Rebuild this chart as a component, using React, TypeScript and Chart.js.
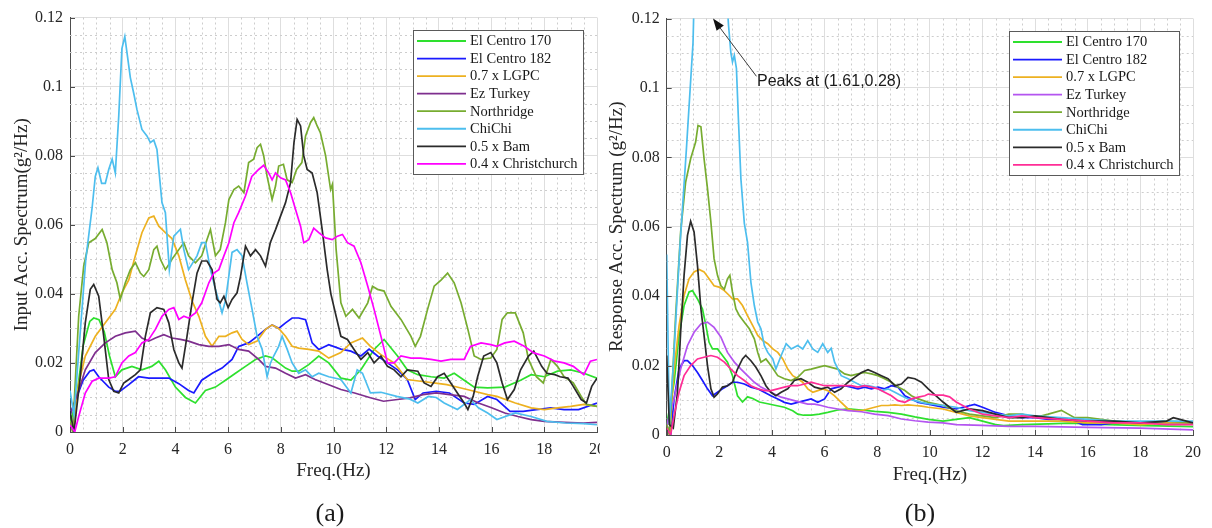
import { useEffect, useRef } from "react";
import { Chart, registerables } from "chart.js";

Chart.register(...registerables);

type Pt = [number, number]; // [frequency Hz, spectrum g^2/Hz]

const SERIES_NAMES = [
  "El Centro 170",
  "El Centro 182",
  "0.7 x LGPC",
  "Ez Turkey",
  "Northridge",
  "ChiChi",
  "0.5 x Bam",
  "0.4 x Christchurch",
];

const X_TICKS = [0, 2, 4, 6, 8, 10, 12, 14, 16, 18, 20];
const Y_TICKS = [0, 0.02, 0.04, 0.06, 0.08, 0.1, 0.12];

// ---------- (a) input acceleration spectra ----------
const elCentro170In: Pt[] = [
  [0, 0.002], [0.25, 0.01], [0.5, 0.025], [0.75, 0.032], [0.9, 0.033], [1.1, 0.0325], [1.3, 0.029], [1.5, 0.022],
  [1.72, 0.016], [1.97, 0.018], [2.35, 0.019], [2.73, 0.018], [3.1, 0.019], [3.37, 0.0205], [3.62, 0.018], [4.0, 0.013],
  [4.38, 0.01], [4.76, 0.0084], [5.14, 0.012], [5.52, 0.013], [5.9, 0.015], [6.28, 0.017], [6.66, 0.019], [7.04, 0.021],
  [7.42, 0.022], [7.67, 0.0215], [7.92, 0.02], [8.18, 0.0185], [8.43, 0.0176], [8.68, 0.0176], [9.06, 0.0195], [9.44, 0.022],
  [9.82, 0.02], [10.28, 0.0156], [10.66, 0.015], [11.04, 0.018], [11.54, 0.0239], [11.92, 0.0268], [12.43, 0.022], [12.8, 0.018],
  [13.2, 0.0166], [13.7, 0.016], [14.2, 0.0156], [14.58, 0.017], [14.96, 0.015], [15.34, 0.013], [15.85, 0.0128], [16.5, 0.013],
  [17.1, 0.015], [17.5, 0.0166], [18.0, 0.016], [18.5, 0.0176], [19.0, 0.018], [19.5, 0.017], [20, 0.0156],
];
const elCentro182In: Pt[] = [
  [0, 0.005], [0.25, 0.01], [0.5, 0.015], [0.75, 0.0176], [0.9, 0.018], [1.09, 0.016], [1.47, 0.013], [1.72, 0.0118],
  [1.9, 0.0118], [2.23, 0.0137], [2.6, 0.016], [2.99, 0.0156], [3.37, 0.0156], [3.75, 0.0156], [4.13, 0.014], [4.5, 0.012],
  [4.7, 0.0113], [5.0, 0.015], [5.4, 0.017], [5.77, 0.0185], [6.15, 0.021], [6.4, 0.0248], [6.78, 0.0258], [7.1, 0.0277],
  [7.42, 0.0297], [7.67, 0.031], [7.92, 0.03], [8.18, 0.0316], [8.43, 0.033], [8.68, 0.033], [8.94, 0.0325], [9.19, 0.0258],
  [9.44, 0.0239], [9.82, 0.0253], [10.28, 0.024], [10.66, 0.0234], [11.04, 0.022], [11.35, 0.024], [11.67, 0.022], [12.05, 0.02],
  [12.43, 0.018], [12.8, 0.0152], [13.1, 0.0094], [13.4, 0.0113], [13.9, 0.0118], [14.4, 0.0113], [14.96, 0.0084], [15.34, 0.008],
  [15.85, 0.0103], [16.2, 0.0094], [16.7, 0.006], [17.2, 0.006], [17.7, 0.0065], [18.25, 0.007], [18.75, 0.0065], [19.3, 0.0065],
  [20, 0.0084],
];
const lgpcIn: Pt[] = [
  [0, 0.003], [0.12, 0.0], [0.33, 0.014], [0.58, 0.022], [0.96, 0.0277], [1.34, 0.0316], [1.72, 0.0355], [1.97, 0.0403],
  [2.23, 0.044], [2.48, 0.051], [2.73, 0.0577], [2.99, 0.062], [3.18, 0.0625], [3.37, 0.0596], [3.62, 0.0577], [3.87, 0.056],
  [4.13, 0.051], [4.38, 0.044], [4.63, 0.038], [4.89, 0.0335], [5.14, 0.0277], [5.39, 0.0248], [5.65, 0.0277], [5.9, 0.0277],
  [6.15, 0.0287], [6.34, 0.0292], [6.53, 0.0268], [6.78, 0.0253], [7.1, 0.0263], [7.42, 0.0297], [7.67, 0.031], [7.92, 0.03],
  [8.18, 0.0277], [8.43, 0.0248], [8.68, 0.0243], [9.06, 0.0239], [9.44, 0.0234], [9.82, 0.0214], [10.28, 0.023], [10.66, 0.0258],
  [11.1, 0.0272], [11.4, 0.0248], [11.8, 0.0224], [12.3, 0.02], [12.8, 0.0152], [13.3, 0.0147], [13.8, 0.0142], [14.3, 0.0137],
  [14.8, 0.0128], [15.34, 0.0118], [15.85, 0.0108], [16.2, 0.0103], [16.9, 0.0084], [17.5, 0.007], [18.0, 0.0065], [18.5, 0.007],
  [19.0, 0.0074], [19.5, 0.008], [20, 0.0074],
];
const ezTurkeyIn: Pt[] = [
  [0, 0.005], [0.33, 0.012], [0.58, 0.018], [0.96, 0.023], [1.34, 0.0258], [1.72, 0.0277], [2.1, 0.0287], [2.48, 0.0292],
  [2.73, 0.0272], [2.99, 0.0263], [3.24, 0.0272], [3.56, 0.0282], [3.87, 0.0272], [4.19, 0.0268], [4.5, 0.0263], [4.89, 0.0253],
  [5.27, 0.0248], [5.65, 0.0248], [6.03, 0.0253], [6.4, 0.0239], [6.78, 0.0234], [7.16, 0.021], [7.42, 0.019], [7.8, 0.0185],
  [8.18, 0.017], [8.56, 0.0156], [8.94, 0.0166], [9.3, 0.0152], [9.82, 0.0137], [10.28, 0.0123], [10.8, 0.0113], [11.4, 0.0099],
  [11.9, 0.0089], [12.43, 0.0094], [12.9, 0.0099], [13.4, 0.0108], [13.9, 0.0113], [14.4, 0.0108], [14.96, 0.0103], [15.5, 0.0084],
  [16.0, 0.007], [16.5, 0.0055], [17.0, 0.0045], [17.5, 0.0036], [18.0, 0.0031], [18.75, 0.0028], [19.5, 0.0026], [20, 0.0028],
];
const northridgeIn: Pt[] = [
  [0, 0.003], [0.1, 0.0], [0.33, 0.0335], [0.52, 0.048], [0.71, 0.0548], [0.96, 0.056], [1.22, 0.0586], [1.4, 0.0548],
  [1.6, 0.047], [1.78, 0.0432], [1.91, 0.0384], [2.1, 0.0432], [2.29, 0.047], [2.48, 0.049], [2.67, 0.046], [2.8, 0.045],
  [2.99, 0.047], [3.18, 0.0528], [3.3, 0.0538], [3.43, 0.05], [3.62, 0.047], [3.75, 0.0485], [3.87, 0.05], [4.13, 0.0528],
  [4.32, 0.0548], [4.5, 0.051], [4.76, 0.049], [5.0, 0.051], [5.2, 0.0557], [5.33, 0.0586], [5.52, 0.051], [5.7, 0.0528],
  [5.9, 0.0606], [6.03, 0.0673], [6.22, 0.0702], [6.4, 0.0712], [6.6, 0.0693], [6.78, 0.078], [6.97, 0.079], [7.1, 0.0823],
  [7.23, 0.0833], [7.35, 0.08], [7.48, 0.074], [7.67, 0.0673], [7.8, 0.0712], [7.92, 0.077], [8.1, 0.0775], [8.24, 0.073],
  [8.43, 0.0722], [8.6, 0.076], [8.8, 0.078], [8.94, 0.0857], [9.13, 0.0896], [9.25, 0.091], [9.38, 0.0886], [9.5, 0.0867],
  [9.7, 0.08], [9.89, 0.0702], [9.96, 0.0717], [10.1, 0.0528], [10.28, 0.0374], [10.47, 0.0335], [10.72, 0.0355], [10.97, 0.033],
  [11.3, 0.0374], [11.48, 0.0422], [11.67, 0.0413], [11.92, 0.0408], [12.18, 0.0364], [12.56, 0.0326], [12.94, 0.0277], [13.1, 0.0248],
  [13.3, 0.0277], [13.57, 0.0355], [13.82, 0.0422], [14.08, 0.044], [14.33, 0.046], [14.58, 0.0432], [14.84, 0.0374], [15.1, 0.0297],
  [15.34, 0.022], [15.6, 0.021], [15.97, 0.0214], [16.2, 0.0239], [16.4, 0.0326], [16.6, 0.0345], [16.9, 0.0345], [17.2, 0.0287],
  [17.4, 0.021], [17.7, 0.016], [17.96, 0.0142], [18.25, 0.021], [18.5, 0.019], [18.75, 0.016], [19.1, 0.0142], [19.4, 0.0103],
  [19.6, 0.008], [20, 0.0074],
];
const chiChiIn: Pt[] = [
  [0, 0.012], [0.15, 0.005], [0.4, 0.03], [0.6, 0.05], [0.84, 0.065], [0.96, 0.074], [1.06, 0.0765], [1.2, 0.072],
  [1.34, 0.072], [1.47, 0.076], [1.6, 0.079], [1.72, 0.075], [1.85, 0.0915], [1.97, 0.111], [2.08, 0.1145], [2.16, 0.11],
  [2.29, 0.1026], [2.42, 0.098], [2.54, 0.0934], [2.73, 0.0876], [2.92, 0.0857], [3.05, 0.0838], [3.18, 0.0845], [3.3, 0.0818],
  [3.49, 0.0664], [3.62, 0.0635], [3.77, 0.047], [3.94, 0.0567], [4.19, 0.0587], [4.32, 0.0528], [4.5, 0.047], [4.82, 0.051],
  [5.0, 0.0548], [5.14, 0.0548], [5.33, 0.047], [5.52, 0.0413], [5.77, 0.0345], [5.9, 0.038], [6.15, 0.052], [6.34, 0.0528],
  [6.53, 0.051], [6.72, 0.043], [6.91, 0.0355], [7.1, 0.0277], [7.29, 0.024], [7.48, 0.016], [7.61, 0.02], [7.73, 0.022],
  [7.92, 0.0248], [8.05, 0.0277], [8.24, 0.024], [8.43, 0.02], [8.68, 0.017], [8.94, 0.018], [9.19, 0.016], [9.44, 0.017],
  [9.82, 0.016], [10.28, 0.0152], [10.66, 0.0113], [10.9, 0.018], [11.1, 0.017], [11.4, 0.0113], [11.8, 0.0115], [12.4, 0.0103],
  [12.9, 0.0095], [13.2, 0.0084], [13.6, 0.0103], [13.9, 0.01], [14.2, 0.0084], [14.7, 0.0065], [15.2, 0.0094], [15.5, 0.007],
  [15.85, 0.0055], [16.2, 0.0036], [16.9, 0.0055], [17.5, 0.0045], [18.1, 0.0031], [18.8, 0.0026], [19.5, 0.0024], [20, 0.0021],
];
const bamIn: Pt[] = [
  [0, 0.006], [0.15, 0.0], [0.39, 0.016], [0.58, 0.0316], [0.77, 0.0413], [0.9, 0.0427], [1.09, 0.0393], [1.28, 0.0277],
  [1.47, 0.0152], [1.66, 0.0118], [1.85, 0.0113], [2.04, 0.0142], [2.23, 0.0152], [2.48, 0.0166], [2.67, 0.018], [2.86, 0.0277],
  [3.05, 0.0345], [3.3, 0.036], [3.56, 0.0355], [3.75, 0.0316], [3.94, 0.0239], [4.13, 0.02], [4.25, 0.0185], [4.44, 0.0277],
  [4.63, 0.0374], [4.82, 0.046], [5.0, 0.0495], [5.2, 0.0495], [5.39, 0.047], [5.58, 0.0384], [5.7, 0.0374], [5.84, 0.0393],
  [6.0, 0.036], [6.15, 0.0384], [6.34, 0.0403], [6.47, 0.045], [6.66, 0.0538], [6.85, 0.051], [7.04, 0.0528], [7.23, 0.051],
  [7.42, 0.048], [7.6, 0.0548], [7.8, 0.0586], [7.99, 0.0625], [8.18, 0.0664], [8.37, 0.0722], [8.5, 0.0838], [8.62, 0.0905],
  [8.75, 0.0886], [8.87, 0.08], [9.0, 0.076], [9.19, 0.075], [9.38, 0.0693], [9.57, 0.0586], [9.76, 0.047], [9.9, 0.04],
  [10.1, 0.0335], [10.28, 0.0277], [10.53, 0.0268], [10.78, 0.0239], [11.04, 0.021], [11.3, 0.023], [11.54, 0.02], [11.8, 0.022],
  [12.05, 0.019], [12.3, 0.018], [12.56, 0.016], [12.8, 0.018], [13.2, 0.0176], [13.44, 0.0142], [13.7, 0.0132], [13.95, 0.016],
  [14.2, 0.017], [14.45, 0.0142], [14.7, 0.0113], [14.96, 0.0084], [15.1, 0.0065], [15.3, 0.0103], [15.47, 0.016], [15.7, 0.022],
  [15.97, 0.023], [16.2, 0.02], [16.4, 0.0142], [16.6, 0.0094], [16.86, 0.0123], [17.1, 0.018], [17.4, 0.022], [17.6, 0.0234],
  [17.9, 0.019], [18.1, 0.017], [18.4, 0.0166], [18.6, 0.016], [18.9, 0.0156], [19.1, 0.0132], [19.4, 0.0094], [19.6, 0.0084],
  [19.8, 0.0132], [20, 0.0156],
];
const christchurchIn: Pt[] = [
  [0, 0.002], [0.18, 0.0], [0.33, 0.0045], [0.58, 0.0113], [0.84, 0.0147], [1.09, 0.0156], [1.47, 0.0156], [1.72, 0.016],
  [1.97, 0.02], [2.23, 0.022], [2.48, 0.023], [2.73, 0.0258], [2.99, 0.0268], [3.24, 0.0297], [3.49, 0.0335], [3.75, 0.0355],
  [3.94, 0.036], [4.13, 0.0326], [4.32, 0.0335], [4.5, 0.033], [4.76, 0.0345], [5.0, 0.0374], [5.27, 0.0432], [5.46, 0.046],
  [5.65, 0.047], [5.84, 0.051], [6.03, 0.0548], [6.22, 0.0606], [6.4, 0.0635], [6.66, 0.0683], [6.9, 0.074], [7.16, 0.076],
  [7.35, 0.0772], [7.54, 0.075], [7.67, 0.073], [7.8, 0.075], [7.99, 0.0736], [8.18, 0.073], [8.37, 0.0693], [8.56, 0.0644],
  [8.75, 0.0596], [8.87, 0.0548], [9.06, 0.0557], [9.25, 0.059], [9.44, 0.0577], [9.7, 0.0562], [9.95, 0.0557], [10.15, 0.0567],
  [10.34, 0.0572], [10.53, 0.0548], [10.78, 0.0538], [11.04, 0.049], [11.3, 0.0422], [11.54, 0.0355], [11.8, 0.0277], [12.05, 0.02],
  [12.3, 0.02], [12.56, 0.022], [12.94, 0.0214], [13.3, 0.0214], [13.7, 0.021], [14.08, 0.0205], [14.45, 0.021], [14.96, 0.021],
  [15.2, 0.0248], [15.6, 0.0258], [15.97, 0.0253], [16.2, 0.0248], [16.5, 0.0258], [16.86, 0.0263], [17.24, 0.0248], [17.6, 0.0229],
  [18.0, 0.022], [18.4, 0.0205], [18.75, 0.02], [19.1, 0.019], [19.5, 0.0166], [19.75, 0.0205], [20, 0.021],
];

// ---------- (b) response acceleration spectra ----------
const CHICHI_PEAK: Pt = [1.61, 0.28];

const elCentro170Resp: Pt[] = [
  [0, 0.003], [0.28, 0.015], [0.47, 0.0286], [0.66, 0.0373], [0.85, 0.0412], [0.98, 0.0416], [1.17, 0.0392], [1.36, 0.0363],
  [1.49, 0.0315], [1.61, 0.0267], [1.74, 0.0248], [1.93, 0.0248], [2.12, 0.0229], [2.31, 0.021], [2.5, 0.0171], [2.69, 0.0113],
  [2.88, 0.0095], [3.07, 0.011], [3.27, 0.0105], [3.52, 0.0095], [3.84, 0.009], [4.15, 0.0085], [4.47, 0.008], [4.79, 0.007],
  [4.98, 0.006], [5.2, 0.0057], [5.5, 0.0057], [5.8, 0.006], [6.12, 0.0065], [6.5, 0.0072], [6.89, 0.0075], [7.4, 0.0072],
  [7.9, 0.0068], [8.41, 0.0065], [8.92, 0.006], [9.43, 0.0052], [9.94, 0.0045], [10.5, 0.004], [11.0, 0.0045], [11.5, 0.005],
  [12.0, 0.004], [12.5, 0.003], [12.8, 0.0027], [13.5, 0.003], [14.5, 0.0032], [15.3, 0.0034], [16.8, 0.003], [18.2, 0.0027],
  [20, 0.0024],
];
const elCentro182Resp: Pt[] = [
  [0, 0.003], [0.15, 0.0], [0.28, 0.0104], [0.47, 0.019], [0.66, 0.0214], [0.79, 0.0214], [0.98, 0.02], [1.17, 0.018],
  [1.36, 0.0157], [1.55, 0.0133], [1.74, 0.0113], [1.93, 0.0123], [2.12, 0.0133], [2.31, 0.0142], [2.5, 0.0152], [2.69, 0.0152],
  [2.95, 0.0147], [3.2, 0.0138], [3.46, 0.0133], [3.71, 0.0123], [3.96, 0.0113], [4.22, 0.0104], [4.47, 0.0094], [4.73, 0.0089],
  [4.98, 0.0094], [5.24, 0.0099], [5.49, 0.0104], [5.74, 0.0094], [6.0, 0.0104], [6.25, 0.0133], [6.5, 0.0138], [6.76, 0.0142],
  [7.01, 0.0138], [7.27, 0.0133], [7.52, 0.0138], [7.78, 0.0133], [8.03, 0.0138], [8.28, 0.0133], [8.54, 0.0142], [8.79, 0.0138],
  [9.05, 0.0113], [9.3, 0.0104], [9.56, 0.0094], [9.94, 0.0089], [10.5, 0.008], [11.0, 0.0075], [11.7, 0.0088], [12.0, 0.008],
  [12.5, 0.0065], [13.0, 0.0055], [13.5, 0.005], [14.0, 0.005], [14.5, 0.0045], [15.0, 0.0045], [15.5, 0.004], [15.8, 0.003],
  [16.5, 0.003], [17.0, 0.0035], [18.0, 0.0035], [19.0, 0.0035], [20, 0.0035],
];
const lgpcResp: Pt[] = [
  [0, 0.003], [0.12, 0.0], [0.28, 0.019], [0.47, 0.0315], [0.66, 0.0402], [0.85, 0.045], [1.04, 0.047], [1.23, 0.0477],
  [1.42, 0.047], [1.61, 0.045], [1.8, 0.043], [1.99, 0.0426], [2.19, 0.0416], [2.38, 0.0402], [2.5, 0.0392], [2.69, 0.0392],
  [2.88, 0.0373], [3.07, 0.0344], [3.27, 0.0315], [3.46, 0.0287], [3.65, 0.0272], [3.84, 0.0263], [4.03, 0.0248], [4.22, 0.0238],
  [4.41, 0.0219], [4.6, 0.019], [4.79, 0.0171], [4.98, 0.0162], [5.17, 0.0152], [5.36, 0.0133], [5.55, 0.0123], [5.74, 0.0128],
  [5.93, 0.0133], [6.12, 0.0128], [6.38, 0.0113], [6.63, 0.0094], [6.89, 0.0075], [7.14, 0.007], [7.4, 0.007], [7.65, 0.0075],
  [7.9, 0.008], [8.16, 0.0085], [8.41, 0.0085], [8.67, 0.0087], [8.92, 0.0085], [9.17, 0.0087], [9.43, 0.0085], [9.68, 0.0083],
  [9.94, 0.008], [10.5, 0.0075], [11.0, 0.0065], [11.5, 0.0055], [12.0, 0.005], [12.5, 0.0045], [13.0, 0.004], [14.0, 0.004],
  [15.0, 0.004], [16.0, 0.0035], [17.0, 0.0035], [18.0, 0.003], [19.0, 0.0035], [20, 0.0035],
];
const ezTurkeyResp: Pt[] = [
  [0, 0.003], [0.28, 0.0104], [0.53, 0.019], [0.79, 0.0258], [1.04, 0.0296], [1.3, 0.032], [1.55, 0.0325], [1.8, 0.031],
  [2.06, 0.0282], [2.31, 0.0238], [2.57, 0.021], [2.82, 0.019], [3.07, 0.0171], [3.33, 0.0152], [3.58, 0.0138], [3.84, 0.0128],
  [4.09, 0.0118], [4.35, 0.0109], [4.6, 0.0104], [4.85, 0.0099], [5.1, 0.0094], [5.36, 0.0089], [5.62, 0.0089], [5.87, 0.0085],
  [6.12, 0.008], [6.5, 0.0075], [6.89, 0.007], [7.4, 0.0067], [7.9, 0.006], [8.41, 0.0056], [8.92, 0.0046], [9.43, 0.0041],
  [9.94, 0.0037], [10.5, 0.0035], [11.0, 0.003], [12.0, 0.0028], [13.0, 0.0025], [14.0, 0.0025], [16.0, 0.0022], [18.0, 0.002],
  [20, 0.0015],
];
const northridgeResp: Pt[] = [
  [0, 0.003], [0.1, 0.0], [0.15, 0.0056], [0.34, 0.0344], [0.53, 0.0585], [0.72, 0.0729], [0.91, 0.0796], [1.1, 0.0844],
  [1.19, 0.0892], [1.3, 0.0888], [1.42, 0.0796], [1.55, 0.071], [1.68, 0.0613], [1.8, 0.0508], [1.93, 0.046], [2.06, 0.043],
  [2.19, 0.042], [2.31, 0.045], [2.4, 0.046], [2.5, 0.0412], [2.63, 0.0363], [2.76, 0.0344], [2.95, 0.0325], [3.14, 0.0306],
  [3.33, 0.0277], [3.46, 0.0238], [3.58, 0.021], [3.77, 0.0219], [3.96, 0.02], [4.22, 0.0171], [4.47, 0.0162], [4.73, 0.0157],
  [4.98, 0.0166], [5.24, 0.0186], [5.49, 0.019], [5.74, 0.0195], [6.0, 0.02], [6.25, 0.0195], [6.5, 0.019], [6.76, 0.0176],
  [7.01, 0.0171], [7.27, 0.0176], [7.52, 0.018], [7.78, 0.0176], [8.03, 0.0171], [8.28, 0.0162], [8.54, 0.0152], [8.79, 0.0138],
  [9.05, 0.0128], [9.3, 0.0113], [9.56, 0.0104], [9.94, 0.0094], [10.5, 0.0085], [11.0, 0.007], [11.5, 0.006], [12.0, 0.0055],
  [12.5, 0.005], [13.0, 0.006], [13.5, 0.006], [14.0, 0.005], [14.5, 0.006], [15.0, 0.0071], [15.5, 0.005], [16.0, 0.005],
  [16.5, 0.0045], [17.0, 0.004], [18.0, 0.0035], [19.0, 0.004], [20, 0.0035],
];
const chiChiResp: Pt[] = [
  [0, 0.052], [0.1, 0.003], [0.25, 0.02], [0.5, 0.054], [0.75, 0.0825], [1.0, 0.113], [1.25, 0.19], [1.5, 0.26],
  CHICHI_PEAK, [1.75, 0.255], [2.0, 0.2], [2.25, 0.13], [2.35, 0.118], [2.44, 0.11], [2.5, 0.1075], [2.57, 0.1094],
  [2.65, 0.1056], [2.72, 0.092], [2.82, 0.0738], [2.95, 0.061], [3.07, 0.0556], [3.2, 0.044], [3.33, 0.0373], [3.46, 0.0325],
  [3.58, 0.0306], [3.71, 0.0258], [3.84, 0.0238], [4.03, 0.0219], [4.15, 0.019], [4.35, 0.0229], [4.54, 0.0263], [4.73, 0.0248],
  [4.98, 0.0258], [5.17, 0.0248], [5.36, 0.0272], [5.55, 0.0248], [5.74, 0.0238], [5.93, 0.0263], [6.12, 0.0238], [6.25, 0.025],
  [6.38, 0.021], [6.63, 0.0171], [6.89, 0.0162], [7.14, 0.0152], [7.4, 0.0142], [7.65, 0.0142], [7.9, 0.0138], [8.16, 0.0128],
  [8.41, 0.0133], [8.67, 0.0123], [8.92, 0.0113], [9.17, 0.0104], [9.43, 0.0099], [9.68, 0.0094], [9.94, 0.009], [10.5, 0.0085],
  [11.0, 0.008], [11.5, 0.007], [12.0, 0.0065], [12.5, 0.006], [13.0, 0.0055], [13.5, 0.006], [14.0, 0.0055], [15.0, 0.005],
  [16.0, 0.0045], [17.0, 0.004], [18.0, 0.004], [19.0, 0.004], [20, 0.004],
];
const bamResp: Pt[] = [
  [0, 0.0229], [0.1, 0.003], [0.25, 0.002], [0.41, 0.0123], [0.53, 0.0296], [0.66, 0.046], [0.79, 0.0575], [0.91, 0.0616],
  [1.04, 0.0585], [1.17, 0.0488], [1.3, 0.0363], [1.42, 0.0287], [1.55, 0.02], [1.68, 0.0133], [1.8, 0.0109], [1.93, 0.0118],
  [2.12, 0.0138], [2.31, 0.0142], [2.5, 0.0152], [2.69, 0.019], [2.88, 0.0219], [3.0, 0.0229], [3.2, 0.0214], [3.39, 0.0195],
  [3.58, 0.0171], [3.77, 0.0142], [3.96, 0.0123], [4.15, 0.0113], [4.35, 0.0123], [4.6, 0.0133], [4.85, 0.0157], [5.1, 0.0162],
  [5.36, 0.0152], [5.62, 0.0138], [5.87, 0.0133], [6.12, 0.0138], [6.38, 0.0123], [6.63, 0.0133], [6.89, 0.0152], [7.14, 0.0166],
  [7.4, 0.018], [7.65, 0.0188], [7.9, 0.018], [8.16, 0.0171], [8.41, 0.0162], [8.67, 0.0142], [8.92, 0.0147], [9.17, 0.0166],
  [9.43, 0.0162], [9.68, 0.0152], [9.94, 0.0133], [10.5, 0.0095], [10.75, 0.008], [11.0, 0.0065], [11.5, 0.0075], [12.0, 0.007],
  [12.5, 0.006], [13.0, 0.005], [13.5, 0.005], [14.0, 0.0055], [14.5, 0.005], [15.0, 0.0045], [16.0, 0.004], [17.0, 0.004],
  [18.0, 0.0035], [19.0, 0.004], [19.25, 0.005], [19.5, 0.0045], [20, 0.0035],
];
const christchurchResp: Pt[] = [
  [0, 0.002], [0.15, 0.0], [0.28, 0.0056], [0.47, 0.0123], [0.66, 0.0171], [0.91, 0.02], [1.17, 0.0219], [1.42, 0.0224],
  [1.68, 0.0229], [1.93, 0.0224], [2.19, 0.021], [2.44, 0.019], [2.69, 0.0171], [2.95, 0.0157], [3.2, 0.0142], [3.46, 0.0133],
  [3.71, 0.0128], [3.96, 0.0128], [4.22, 0.0133], [4.47, 0.0138], [4.73, 0.0142], [4.98, 0.0142], [5.24, 0.0147], [5.49, 0.0152],
  [5.74, 0.0147], [6.0, 0.0142], [6.5, 0.0142], [7.01, 0.0142], [7.27, 0.0138], [7.52, 0.0142], [7.78, 0.0138], [8.03, 0.0133],
  [8.28, 0.0123], [8.54, 0.0113], [8.79, 0.0099], [9.05, 0.0094], [9.3, 0.0104], [9.56, 0.0109], [9.81, 0.0113], [9.94, 0.0118],
  [10.25, 0.0115], [10.5, 0.0115], [10.75, 0.011], [11.0, 0.0095], [11.5, 0.0075], [12.0, 0.006], [12.5, 0.0055], [13.0, 0.005],
  [13.5, 0.0055], [14.0, 0.005], [15.0, 0.0045], [16.0, 0.004], [17.0, 0.0035], [18.0, 0.0035], [19.0, 0.003], [20, 0.003],
];

// ---------- styling ----------
const COLORS_IN = ["#2ee02e", "#1a1aff", "#edb120", "#7e2f8e", "#77ac30", "#4dbeee", "#2b2b2b", "#ff00ff"];
const COLORS_RESP = ["#2ee02e", "#1a1aff", "#edb120", "#b455f0", "#77ac30", "#4dbeee", "#2b2b2b", "#ff2d96"];

const SERIF = "'Times New Roman', 'Liberation Serif', serif";
const TEXT = "#262626";
const AXIS = "#4d4d4d";
const GRID = "#dedede";
const MINOR_GRID = "#cdcdcd";

// arrow annotation in panel (b), in data coordinates
const PEAK_LABEL = `Peaks at (${CHICHI_PEAK[0]},${CHICHI_PEAK[1]})`;
const ARROW_TIP: Pt = [1.76, 0.12];
const LABEL_ANCHOR: Pt = [3.43, 0.1019];

const minorGrid = {
  id: "minorGrid",
  beforeDatasetsDraw(chart: any) {
    const { ctx, chartArea: a, scales } = chart;
    const x = scales.x, y = scales.y;
    ctx.save();
    ctx.strokeStyle = MINOR_GRID;
    ctx.lineWidth = 1;
    ctx.setLineDash([2, 3]);
    ctx.beginPath();
    for (let i = 1; i < 40; i++) {
      if (i % 4 === 0) continue;
      const px = Math.round(x.getPixelForValue(i * 0.5)) + 0.5;
      ctx.moveTo(px, a.top);
      ctx.lineTo(px, a.bottom);
    }
    for (let j = 1; j < 24; j++) {
      if (j % 4 === 0) continue;
      const py = Math.round(y.getPixelForValue(j * 0.005)) + 0.5;
      ctx.moveTo(a.left, py);
      ctx.lineTo(a.right, py);
    }
    ctx.stroke();
    ctx.restore();
  },
};

const innerTicks = {
  id: "innerTicks",
  afterDatasetsDraw(chart: any) {
    const { ctx, chartArea: a, scales } = chart;
    ctx.save();
    ctx.strokeStyle = AXIS;
    ctx.lineWidth = 1;
    ctx.beginPath();
    for (const v of X_TICKS) {
      const px = Math.round(scales.x.getPixelForValue(v)) + 0.5;
      ctx.moveTo(px, a.bottom);
      ctx.lineTo(px, a.bottom - 5);
    }
    for (const v of Y_TICKS) {
      const py = Math.round(scales.y.getPixelForValue(v)) + 0.5;
      ctx.moveTo(a.left, py);
      ctx.lineTo(a.left + 5, py);
    }
    ctx.stroke();
    ctx.restore();
  },
};

function boxLegend(colors: string[]) {
  return {
    id: "boxLegend",
    afterDatasetsDraw(chart: any) {
      const { ctx, chartArea: a } = chart;
      const w = 170, h = 144;
      const x0 = Math.round(a.right - 14 - w);
      const y0 = Math.round(a.top + 12.5);
      ctx.save();
      ctx.fillStyle = "#ffffff";
      ctx.fillRect(x0, y0, w, h);
      ctx.strokeStyle = "#5a5a5a";
      ctx.lineWidth = 1;
      ctx.strokeRect(x0 + 0.5, y0 + 0.5, w, h);
      ctx.font = `14.5px ${SERIF}`;
      ctx.textBaseline = "middle";
      ctx.textAlign = "left";
      SERIES_NAMES.forEach((name, i) => {
        const yy = y0 + 11 + i * 17.55;
        ctx.strokeStyle = colors[i];
        ctx.lineWidth = 1.8;
        ctx.beginPath();
        ctx.moveTo(x0 + 4, yy);
        ctx.lineTo(x0 + 53, yy);
        ctx.stroke();
        ctx.fillStyle = "#1a1a1a";
        ctx.fillText(name, x0 + 57, yy + 0.5);
      });
      ctx.restore();
    },
  };
}

const peakArrow = {
  id: "peakArrow",
  afterDatasetsDraw(chart: any) {
    const { ctx, scales } = chart;
    const tx = scales.x.getPixelForValue(ARROW_TIP[0]);
    const ty = scales.y.getPixelForValue(ARROW_TIP[1]);
    const lx = scales.x.getPixelForValue(LABEL_ANCHOR[0]);
    const ly = scales.y.getPixelForValue(LABEL_ANCHOR[1]);
    const sx = lx - 0.5, sy = ly - 5;
    const ang = Math.atan2(ty - sy, tx - sx);
    const len = 12, half = 4.5;
    const bx = tx - len * Math.cos(ang), by = ty - len * Math.sin(ang);
    ctx.save();
    ctx.strokeStyle = "#3a3a3a";
    ctx.lineWidth = 1;
    ctx.beginPath();
    ctx.moveTo(sx, sy);
    ctx.lineTo(bx, by);
    ctx.stroke();
    ctx.fillStyle = "#111";
    ctx.beginPath();
    ctx.moveTo(tx, ty);
    ctx.lineTo(bx + half * Math.sin(ang), by - half * Math.cos(ang));
    ctx.lineTo(bx - half * Math.sin(ang), by + half * Math.cos(ang));
    ctx.closePath();
    ctx.fill();
    ctx.font = "16px 'Liberation Sans', Arial, sans-serif";
    ctx.textBaseline = "middle";
    ctx.textAlign = "left";
    ctx.fillStyle = "#1a1a1a";
    ctx.fillText(PEAK_LABEL, lx, ly);
    ctx.restore();
  },
};

interface PanelSpec {
  series: Pt[][];
  colors: string[];
  yTitle: string;
  padTop: number;
  padRight: number;
  yAxisWidth: number;
  xAxisHeight: number;
  xTickPad: number;
  xTitlePad: number;
  yTitlePad: number;
  extra: any[];
}

const PANEL_IN: PanelSpec = {
  series: [elCentro170In, elCentro182In, lgpcIn, ezTurkeyIn, northridgeIn, chiChiIn, bamIn, christchurchIn],
  colors: COLORS_IN,
  yTitle: "Input Acc. Spectrum(g\u00B2/Hz)",
  padTop: 17.5,
  padRight: 3,
  yAxisWidth: 70,
  xAxisHeight: 96,
  xTickPad: 8,
  xTitlePad: 45.6,
  yTitlePad: 11,
  extra: [],
};

const PANEL_RESP: PanelSpec = {
  series: [elCentro170Resp, elCentro182Resp, lgpcResp, ezTurkeyResp, northridgeResp, chiChiResp, bamResp, christchurchResp],
  colors: COLORS_RESP,
  yTitle: "Response Acc. Spectrum (g\u00B2/Hz)",
  padTop: 18.5,
  padRight: 19,
  yAxisWidth: 66.7,
  xAxisHeight: 93,
  xTickPad: 8.5,
  xTitlePad: 41.6,
  yTitlePad: 5.5,
  extra: [peakArrow],
};

function makeConfig(p: PanelSpec): any {
  return {
    type: "line",
    data: {
      datasets: p.series.map((pts, i) => ({
        label: SERIES_NAMES[i],
        data: pts.map(([x, y]) => ({ x, y })),
        borderColor: p.colors[i],
        backgroundColor: p.colors[i],
        borderWidth: 1.7,
        pointRadius: 0,
        fill: false,
        tension: 0,
        order: SERIES_NAMES.length - i,
      })),
    },
    options: {
      animation: false,
      responsive: false,
      maintainAspectRatio: false,
      events: [],
      layout: { padding: { top: p.padTop, right: p.padRight, left: 0, bottom: 0 } },
      plugins: { legend: { display: false }, tooltip: { enabled: false }, title: { display: false } },
      scales: {
        x: {
          type: "linear",
          min: 0,
          max: 20,
          afterBuildTicks: (s: any) => {
            s.ticks = X_TICKS.map((value) => ({ value }));
          },
          afterFit: (s: any) => {
            s.height = p.xAxisHeight;
            s.paddingLeft = 0;
            s.paddingRight = 0;
          },
          grid: { color: GRID, lineWidth: 1, drawTicks: false },
          border: { display: true, color: AXIS, width: 1 },
          ticks: {
            padding: p.xTickPad,
            color: TEXT,
            font: { family: SERIF, size: 16 },
            maxRotation: 0,
            autoSkip: false,
            callback: (v: number) => String(v),
          },
          title: {
            display: true,
            text: "Freq.(Hz)",
            color: TEXT,
            font: { family: SERIF, size: 19 },
            padding: { top: 0, bottom: p.xTitlePad },
          },
        },
        y: {
          type: "linear",
          min: 0,
          max: 0.12,
          afterBuildTicks: (s: any) => {
            s.ticks = Y_TICKS.map((value) => ({ value }));
          },
          afterFit: (s: any) => {
            s.width = p.yAxisWidth;
            s.paddingTop = 0;
            s.paddingBottom = 0;
          },
          grid: { color: GRID, lineWidth: 1, drawTicks: false },
          border: { display: true, color: AXIS, width: 1 },
          ticks: {
            padding: 7,
            color: TEXT,
            font: { family: SERIF, size: 16 },
            autoSkip: false,
            callback: (v: number) => String(Math.round(v * 1000) / 1000),
          },
          title: {
            display: true,
            text: p.yTitle,
            color: TEXT,
            font: { family: SERIF, size: 19 },
            padding: { top: p.yTitlePad, bottom: 0 },
          },
        },
      },
    },
    plugins: [minorGrid, innerTicks, boxLegend(p.colors), ...p.extra],
  };
}

const captionStyle = (cx: number): any => ({
  position: "absolute",
  left: cx - 50,
  width: 100,
  top: 497,
  height: 32,
  lineHeight: "32px",
  textAlign: "center",
  fontFamily: SERIF,
  fontSize: 26,
  color: "#1a1a1a",
});

export default function App() {
  const refIn = useRef<HTMLCanvasElement>(null);
  const refResp = useRef<HTMLCanvasElement>(null);

  useEffect(() => {
    const a = new Chart(refIn.current as HTMLCanvasElement, makeConfig(PANEL_IN));
    const b = new Chart(refResp.current as HTMLCanvasElement, makeConfig(PANEL_RESP));
    return () => {
      a.destroy();
      b.destroy();
    };
  }, []);

  return (
    <div
      style={{
        position: "fixed",
        left: 0,
        top: 0,
        width: 1212,
        height: 528,
        background: "#ffffff",
        overflow: "hidden",
      }}
    >
      <canvas
        ref={refIn}
        width={600}
        height={528}
        style={{ position: "absolute", left: 0, top: 0, width: 600, height: 528 }}
      />
      <canvas
        ref={refResp}
        width={612}
        height={528}
        style={{ position: "absolute", left: 600, top: 0, width: 612, height: 528 }}
      />
      <div style={captionStyle(330)}>(a)</div>
      <div style={captionStyle(920)}>(b)</div>
    </div>
  );
}
